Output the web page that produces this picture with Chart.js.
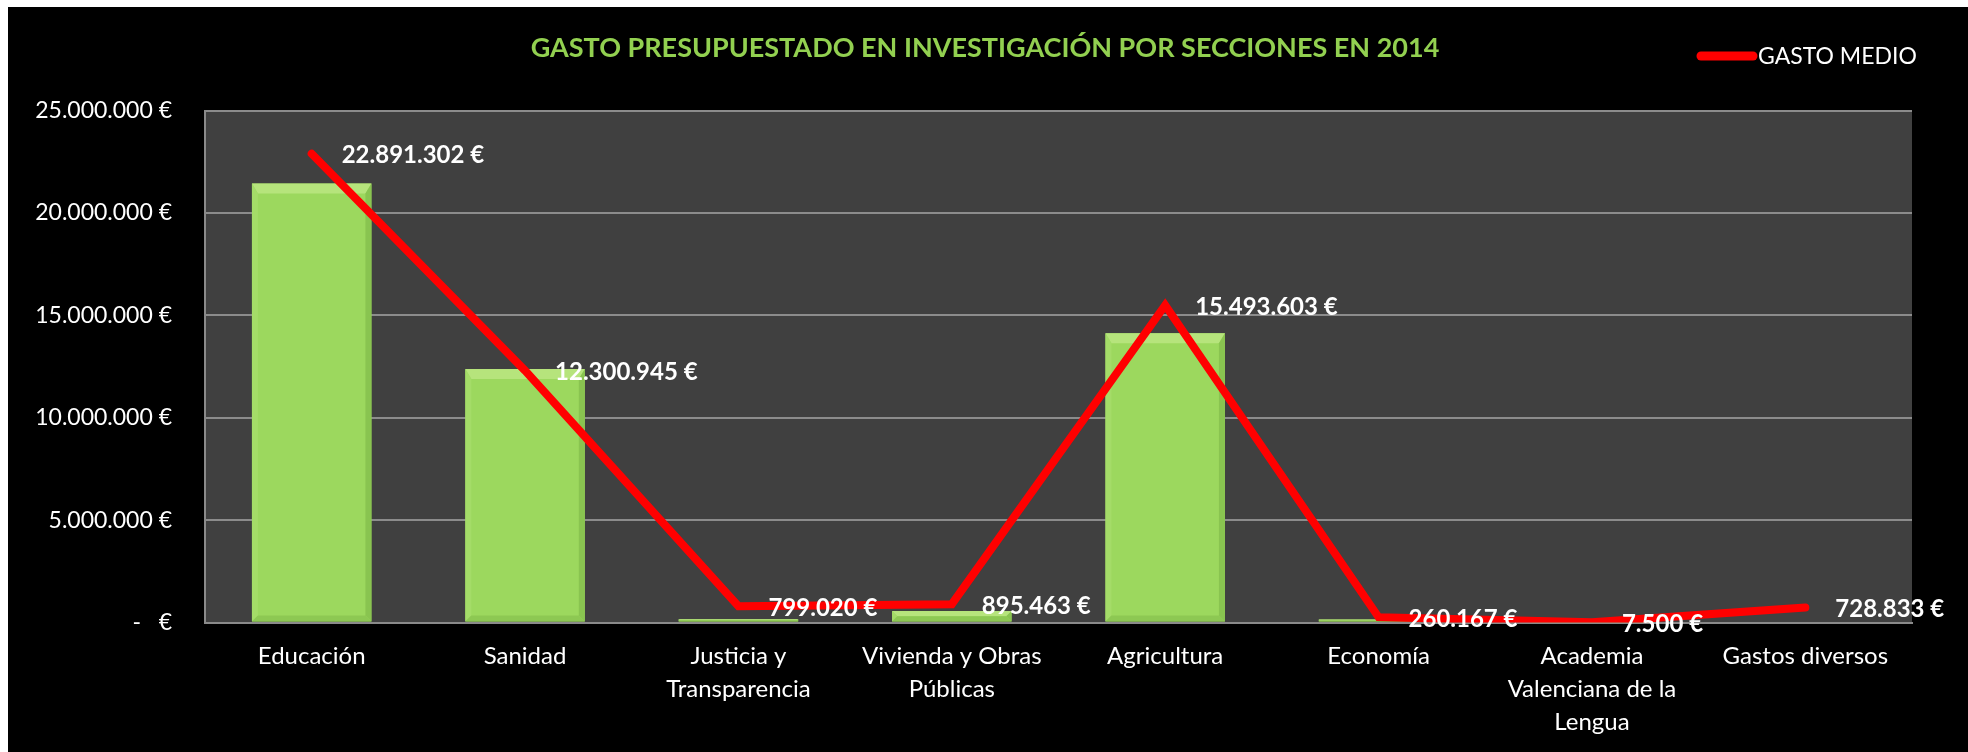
<!DOCTYPE html>
<html>
<head>
<meta charset="utf-8">
<script src="https://cdn.jsdelivr.net/npm/chart.js@4.4.1/dist/chart.umd.min.js"></script>
<style>
  html, body { margin: 0; padding: 0; background: #fff; }
  canvas { display: block; }
</style>
</head>
<body>
<canvas id="chart" width="1968" height="752"></canvas>
<script>
const categories = [
  "Educación",
  "Sanidad",
  ["Justicia y", "Transparencia"],
  ["Vivienda y Obras", "Públicas"],
  "Agricultura",
  "Economía",
  ["Academia", "Valenciana de la", "Lengua"],
  "Gastos diversos"
];
const budgetValues = [21430000, 12380000, 160000, 560000, 14120000, 150000, 5000, 0];
const averageValues = [22891302, 12300945, 799020, 895463, 15493603, 260167, 7500, 728833];
const yTicks = [0, 5000000, 10000000, 15000000, 20000000, 25000000];

function euro(v) {
  return String(Math.round(v)).replace(/\B(?=(\d{3})+(?!\d))/g, ".") + " €";
}

function poly(ctx, pts, color) {
  ctx.beginPath();
  ctx.moveTo(pts[0][0], pts[0][1]);
  for (let i = 1; i < pts.length; i++) ctx.lineTo(pts[i][0], pts[i][1]);
  ctx.closePath();
  ctx.fillStyle = color;
  ctx.fill();
}

// black frame, dark plot area, title and legend
const frame = {
  id: "frame",
  beforeDraw(chart) {
    const ctx = chart.ctx, a = chart.chartArea;
    ctx.save();
    ctx.fillStyle = "#000";
    ctx.fillRect(8, 7, chart.width - 8, chart.height - 7);
    ctx.fillStyle = "#404040";
    ctx.fillRect(a.left, a.top, a.right - a.left, a.bottom - a.top);

    ctx.font = "bold 27px Lato";
    ctx.fillStyle = "#92D050";
    ctx.textAlign = "center";
    ctx.textBaseline = "middle";
    ctx.fillText("GASTO PRESUPUESTADO EN INVESTIGACIÓN POR SECCIONES EN 2014", 985, 48);

    ctx.strokeStyle = "#FF0000";
    ctx.lineWidth = 9;
    ctx.lineCap = "round";
    ctx.beginPath();
    ctx.moveTo(1701, 56);
    ctx.lineTo(1753, 56);
    ctx.stroke();
    ctx.font = "23px Lato";
    ctx.fillStyle = "#fff";
    ctx.textAlign = "left";
    ctx.fillText("GASTO MEDIO", 1758, 57);
    ctx.restore();
  }
};

// soft bevel edges on the bars
const bevel = {
  id: "bevel",
  afterDatasetDraw(chart, args) {
    if (args.index !== 0) return;
    const ctx = chart.ctx;
    ctx.save();
    args.meta.data.forEach(bar => {
      const p = bar.getProps(["x", "y", "base", "width"], true);
      const l = p.x - p.width / 2, r = p.x + p.width / 2;
      const t = Math.min(p.y, p.base), b = Math.max(p.y, p.base);
      const h = b - t;
      if (h < 1) return;
      const s = Math.min(6, h / 2), st = Math.min(10, h / 2);
      poly(ctx, [[l, t], [r, t], [r - s, t + st], [l + s, t + st]], "#B6E47C");
      poly(ctx, [[l, t], [l + s, t + st], [l + s, b - s], [l, b]], "#A4DC68");
      poly(ctx, [[r, t], [r - s, t + st], [r - s, b - s], [r, b]], "#89C450");
      poly(ctx, [[l, b], [l + s, b - s], [r - s, b - s], [r, b]], "#8DC853");
    });
    ctx.restore();
  }
};

// value labels next to the line points
const lineLabels = {
  id: "lineLabels",
  afterDatasetsDraw(chart) {
    const ctx = chart.ctx;
    const meta = chart.getDatasetMeta(1);
    ctx.save();
    ctx.font = "bold 24px Lato";
    ctx.fillStyle = "#fff";
    ctx.textAlign = "left";
    ctx.textBaseline = "middle";
    meta.data.forEach((pt, i) => {
      ctx.fillText(euro(averageValues[i]), pt.x + 30, pt.y + 2);
    });
    ctx.restore();
  }
};

new Chart(document.getElementById("chart"), {
  data: {
    labels: categories,
    datasets: [
      {
        type: "bar",
        label: "PRESUPUESTO",
        data: budgetValues,
        backgroundColor: "#9CD85E",
        borderWidth: 0,
        barPercentage: 0.56,
        categoryPercentage: 1,
        order: 2
      },
      {
        type: "line",
        label: "GASTO MEDIO",
        data: averageValues,
        borderColor: "#FF0000",
        borderWidth: 8,
        borderCapStyle: "round",
        borderJoinStyle: "miter",
        pointRadius: 0,
        tension: 0,
        order: 1
      }
    ]
  },
  options: {
    responsive: false,
    animation: false,
    devicePixelRatio: 1,
    layout: { padding: { top: 110.5, left: 0, right: 56, bottom: 0 } },
    plugins: {
      legend: { display: false },
      title: { display: false },
      tooltip: { enabled: false }
    },
    scales: {
      x: {
        grid: { display: false, drawTicks: false },
        border: { display: true, color: "#8A8A8A", width: 2 },
        ticks: {
          color: "#fff",
          font: { family: "Lato", size: 24, lineHeight: 1.375 },
          padding: 17,
          maxRotation: 0,
          autoSkip: false
        },
        afterFit(scale) { scale.height = 129.5; }
      },
      y: {
        min: 0,
        max: 25000000,
        grid: { color: "#8C8C8C", lineWidth: 2, drawTicks: false },
        border: { display: true, color: "#8A8A8A", width: 2 },
        ticks: {
          color: "#fff",
          font: { family: "Lato", size: 23 },
          padding: 33,
          callback: v => (v === 0 ? "-   €" : euro(v))
        },
        afterBuildTicks(scale) { scale.ticks = yTicks.map(v => ({ value: v })); },
        afterFit(scale) { scale.width = 205; }
      }
    }
  },
  plugins: [frame, bevel, lineLabels]
});
</script>
</body>
</html>
